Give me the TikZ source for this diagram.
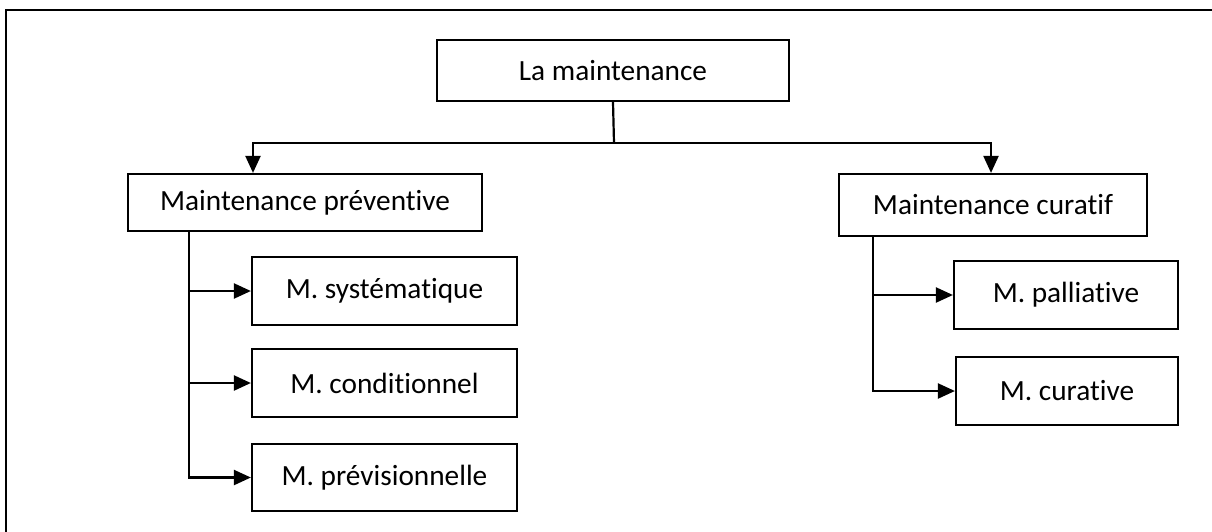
\documentclass[tikz,border=0pt]{standalone}
\usepackage{fontspec}
\setmainfont{Carlito}[Ligatures=NoCommon]
\usetikzlibrary{arrows.meta}
\tikzset{
  box/.style={draw, line width=2.2pt, rectangle, inner sep=0pt, font=\fontsize{29.3}{34}\selectfont},
  link/.style={line width=2.2pt, line join=miter},
  arr/.style={link, -{Triangle[length=17pt,width=15pt]}},
}
\begin{document}
\begin{tikzpicture}[x=1pt,y=-1pt]
\useasboundingbox (0,0) rectangle (1212,531);
% outer frame
\draw[line width=2.4pt] (6,540) -- (6,10) -- (1220,10);

% boxes
\node[box, minimum width=352pt, minimum height=61pt] (top) at (613,70.5) {La maintenance};
\node[box, minimum width=354pt, minimum height=57pt] (prev) at (305,202.5) {Maintenance préventive};
\node[box, minimum width=308pt, minimum height=62pt] (cur) at (993,205) {Maintenance curatif\hspace{24pt}};
\node[box, minimum width=265pt, minimum height=68pt] (sys) at (384.5,291) {M. systématique};
\node[box, minimum width=265pt, minimum height=68pt] (cond) at (384.5,383) {M. conditionnel};
\node[box, minimum width=265pt, minimum height=67pt] (previs) at (384.5,477.5) {M. prévisionnelle};
\node[box, minimum width=224pt, minimum height=68pt] (pall) at (1066,295) {M. palliative};
\node[box, minimum width=222pt, minimum height=68pt] (curv) at (1067,391) {M. curative};

% main split
\coordinate (hub) at (614,143);
\draw[link] (top.south) -- (hub);
\draw[arr] (hub) -| ([xshift=-52pt]prev.north);
\draw[arr] (hub) -| ([xshift=-2pt]cur.north);

% preventive branch
\coordinate (pb) at ([xshift=-116pt]prev.south);
\draw[arr] (pb) |- (previs.west);
\draw[arr] (pb |- sys.west) -- (sys.west);
\draw[arr] (pb |- cond.west) -- (cond.west);

% curative branch
\coordinate (cb) at ([xshift=-120pt]cur.south);
\draw[arr] (cb) |- (curv.west);
\draw[arr] (cb |- pall.west) -- (pall.west);
\end{tikzpicture}
\end{document}
